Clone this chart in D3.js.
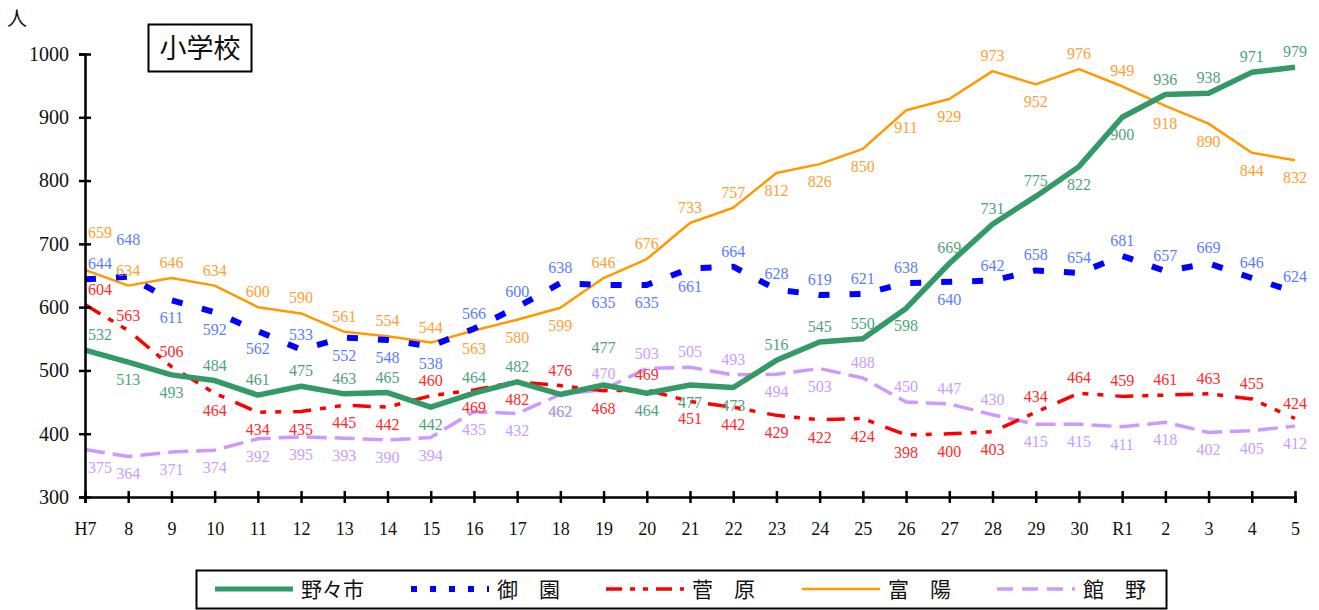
<!DOCTYPE html>
<html lang="ja">
<head>
<meta charset="UTF-8">
<title>小学校 児童数の推移</title>
<script src="https://d3js.org/d3.v7.min.js"></script>
<style>
  body { margin: 0; background: #fff; }
</style>
</head>
<body>
<div id="chart"></div>
<script>
// years (Heisei 7 .. Reiwa 5)
const years = ["H7","8","9","10","11","12","13","14","15","16","17","18","19","20",
  "21","22","23","24","25","26","27","28","29","30","R1","2","3","4","5"];

const nonoichi = [532,513,493,484,461,475,463,465,442,464,482,462,477,464,477,473,516,545,550,598,669,731,775,822,900,936,938,971,979];
const misono   = [644,648,611,592,562,533,552,548,538,566,600,638,635,635,661,664,628,619,621,638,640,642,658,654,681,657,669,646,624];
const sugahara = [604,563,506,464,434,435,445,442,460,469,482,476,468,469,451,442,429,422,424,398,400,403,434,464,459,461,463,455,424];
const fuyo     = [659,634,646,634,600,590,561,554,544,563,580,599,646,676,733,757,812,826,850,911,929,973,952,976,949,918,890,844,832];
const tateno   = [375,364,371,374,392,395,393,390,394,435,432,462,470,503,505,493,494,503,488,450,447,430,415,415,411,418,402,405,412];

// label placement per point: a = above, b = below, A = well above
const placeNonoichi = "abbaaaaabaabAbbbaaabaaabbaaaa";
const placeMisono   = "aAbbbabbbaaabbbaaaaab" + "aaaaaaaa";
const placeSugahara = "aaabbbbbabbaba" + "bbbbbbbb" + "aaaaaaa";
const placeFuyo     = "Aaaaaaaaa" + "bbb" + "aaaa" + "bbbbb" + "abaa" + "bbbb";
const placeTateno   = "bbbbbbbbbbbb" + "aaaa" + "bb" + "aaaa" + "bbbbbbb";

const series = [
  { name: "野々市", values: nonoichi, place: placeNonoichi, line: "#339966", label: "#4fa37a", width: 5.5, dash: null },
  { name: "御　園", values: misono,   place: placeMisono,   line: "#0000ff", label: "#5a7dff", width: 6,   dash: "11,20" },
  { name: "菅　原", values: sugahara, place: placeSugahara, line: "#ff0000", label: "#ff2a2a", width: 3.5, dash: "18,9,6,9,6,12" },
  { name: "富　陽", values: fuyo,     place: placeFuyo,     line: "#ff9900", label: "#ffa033", width: 2.5, dash: null },
  { name: "館　野", values: tateno,   place: placeTateno,   line: "#cc99ff", label: "#c99cff", width: 3.5, dash: "20,8" }
];

const serif = "'Liberation Serif', 'DejaVu Serif', serif";
const jp = "'Noto Sans CJK JP', sans-serif";

const W = 1319, H = 610;
const svg = d3.select("#chart").append("svg").attr("width", W).attr("height", H);

const x = d3.scalePoint().domain(years).range([85, 1295]);
const y = d3.scaleLinear().domain([300, 1000]).range([497, 54]);

// lines (draw in reverse so green is on top)
const line = d3.line().x((d, i) => x(years[i])).y(d => y(d));
series.slice().reverse().forEach(s => {
  svg.append("path")
    .datum(s.values)
    .attr("fill", "none")
    .attr("stroke", s.line)
    .attr("stroke-width", s.width)
    .attr("stroke-dasharray", s.dash)
    .attr("stroke-linejoin", "round")
    .attr("d", line);
});

// data labels
series.forEach(s => {
  svg.append("g").selectAll("text")
    .data(s.values)
    .join("text")
    .attr("x", (d, i) => x(years[i]) + (i === 0 ? 15 : 0))
    .attr("y", (d, i) => {
      const p = s.place[i];
      if (p === "A") return y(d) - 32;
      if (p === "a") return y(d) - 10;
      return y(d) + 23;
    })
    .attr("text-anchor", "middle")
    .attr("font-size", 16)
    .style("font-family", serif)
    .attr("fill", s.label)
    .text(d => d);
});

// axes
const yAxis = d3.axisLeft(y).tickValues(d3.range(300, 1001, 100))
  .tickFormat(d3.format("d")).tickSize(6).tickPadding(12);
const gy = svg.append("g").attr("transform", "translate(85,0)").call(yAxis);
gy.select(".domain").attr("stroke-width", 2.5).attr("stroke", "#000");
gy.selectAll(".tick line").attr("x1", -6).attr("x2", 6).attr("stroke-width", 2.5);
gy.selectAll(".tick text").attr("font-size", 20).attr("fill", "#111")
  .style("font-family", serif).attr("x", -16);

const xAxis = d3.axisBottom(x).tickSize(6).tickPadding(16);
const gx = svg.append("g").attr("transform", "translate(0,497)").call(xAxis);
gx.select(".domain").attr("stroke-width", 2.5).attr("stroke", "#000");
gx.selectAll(".tick line").attr("y1", -6).attr("y2", 6).attr("stroke-width", 2.5);
gx.selectAll(".tick text").attr("font-size", 18).attr("fill", "#111")
  .style("font-family", serif).attr("dy", "0.9em");

// unit
svg.append("text").attr("x", 17).attr("y", 26)
  .attr("text-anchor", "middle").attr("font-size", 20).attr("fill", "#111")
  .style("font-family", jp).text("人");

// title box
svg.append("rect").attr("x", 148.5).attr("y", 24.5).attr("width", 103).attr("height", 47)
  .attr("fill", "#fff").attr("stroke", "#000").attr("stroke-width", 2);
svg.append("text").attr("x", 200).attr("y", 58)
  .attr("text-anchor", "middle").attr("font-size", 27).attr("fill", "#111")
  .style("font-family", jp).text("小学校");

// legend
const legend = svg.append("g");
legend.append("rect").attr("x", 196.5).attr("y", 570.5).attr("width", 970).attr("height", 38)
  .attr("fill", "#fff").attr("stroke", "#000").attr("stroke-width", 2);
const legendX = [215, 411, 606, 802, 997];
const legendDash = [null, "6,13", "16,8,5,8,5,8", null, "16,9"];
series.forEach((s, i) => {
  const lx = legendX[i];
  legend.append("line")
    .attr("x1", lx).attr("x2", lx + 78).attr("y1", 589).attr("y2", 589)
    .attr("stroke", s.line)
    .attr("stroke-width", i === 0 ? 5 : s.width)
    .attr("stroke-dasharray", legendDash[i]);
  legend.append("text")
    .attr("x", lx + 86).attr("y", 597)
    .attr("font-size", 21).attr("fill", "#111")
    .style("font-family", jp)
    .text(s.name);
});
</script>
</body>
</html>
